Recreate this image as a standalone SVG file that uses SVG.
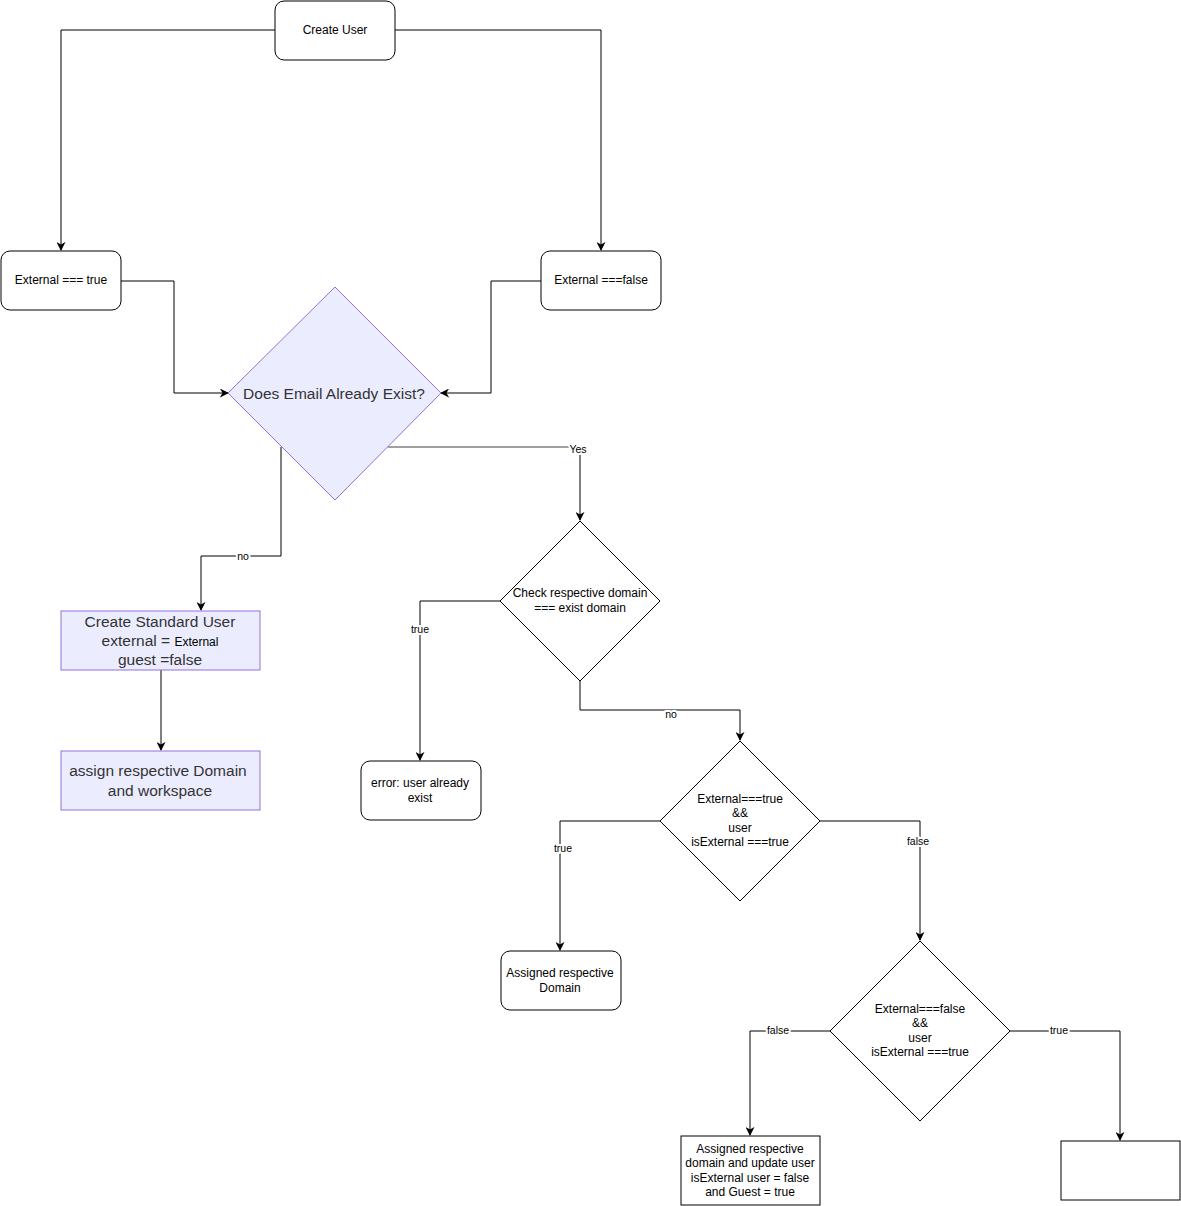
<svg xmlns="http://www.w3.org/2000/svg" width="1181" height="1206" viewBox="0 0 1181 1206">
<defs>
<marker id="arr" viewBox="0 0 10 10" refX="9" refY="5" markerWidth="9" markerHeight="9" markerUnits="userSpaceOnUse" orient="auto">
<path d="M0,0 L10,5 L0,10 L3,5 z" fill="#000"/>
</marker>
<style>
.box{fill:#fff;stroke:#000;stroke-width:1}
.mbox{fill:#ececff;stroke:#9370db;stroke-width:1}
.t{font-family:"Liberation Sans",Arial,sans-serif;font-size:12px;fill:#000;text-anchor:middle}
.m{font-family:"Liberation Sans",Arial,sans-serif;font-size:15.5px;fill:#333;text-anchor:middle}
.e{fill:none;stroke:#000;stroke-width:1}
.lbl{font-family:"Liberation Sans",Arial,sans-serif;font-size:10.5px;fill:#000;text-anchor:middle;stroke:#fff;stroke-width:4px;paint-order:stroke;stroke-linejoin:round}
</style>
</defs>
<rect width="1181" height="1206" fill="#fff"/>
<g id="connectors">
<path class="e" d="M275,30 H61 V250" marker-end="url(#arr)"/>
<path class="e" d="M395,30 H601 V250" marker-end="url(#arr)"/>
<path class="e" d="M121,281 H174 V393 H228" marker-end="url(#arr)"/>
<path class="e" d="M541,281 H491 V393 H441" marker-end="url(#arr)"/>
<path d="M388,447 H580" fill="none" stroke="#808080" stroke-width="1.3"/>
<path class="e" d="M580,447 V520" marker-end="url(#arr)"/>
<text class="lbl" x="578" y="453">Yes</text>
<path class="e" d="M281,447 V556 H201 V610" marker-end="url(#arr)"/>
<text class="lbl" x="243" y="560">no</text>
<path class="e" d="M161,670 V750" marker-end="url(#arr)"/>
<path class="e" d="M500,601 H420 V760" marker-end="url(#arr)"/>
<text class="lbl" x="420" y="633">true</text>
<path class="e" d="M580,681 V710 H740 V740" marker-end="url(#arr)"/>
<text class="lbl" x="671" y="718">no</text>
<path class="e" d="M660,821 H560 V950" marker-end="url(#arr)"/>
<text class="lbl" x="563" y="852">true</text>
<path class="e" d="M820,821 H920 V940" marker-end="url(#arr)"/>
<text class="lbl" x="918" y="845">false</text>
<path class="e" d="M830,1031 H750 V1135" marker-end="url(#arr)"/>
<text class="lbl" x="778" y="1034">false</text>
<path class="e" d="M1010,1031 H1120 V1140" marker-end="url(#arr)"/>
<text class="lbl" x="1059" y="1034">true</text>
</g>
<g id="create-user">
<rect class="box" x="275" y="1" width="120" height="59" rx="9"/>
<text class="t" x="335" y="34">Create User</text>
</g>
<g id="external-true">
<rect class="box" x="1" y="251" width="120" height="59" rx="9"/>
<text class="t" x="61" y="284">External === true</text>
</g>
<g id="external-false">
<rect class="box" x="541" y="251" width="120" height="59" rx="9"/>
<text class="t" x="601" y="284">External ===false</text>
</g>
<g id="email-exist">
<polygon class="mbox" points="335,287 441,393 335,500 228,393"/>
<text class="m" x="334" y="399">Does Email Already Exist?</text>
</g>
<g id="create-standard">
<rect class="mbox" x="61" y="611" width="199" height="59"/>
<text class="m" x="160" y="627">Create Standard User</text>
<text class="m" x="160" y="646">external = <tspan style="font-size:12px;fill:#000">External</tspan></text>
<text class="m" x="160" y="665">guest =false</text>
</g>
<g id="assign-domain">
<rect class="mbox" x="61" y="751" width="199" height="59"/>
<text class="m" x="158" y="776">assign respective Domain</text>
<text class="m" x="160" y="796">and workspace</text>
</g>
<g id="check-domain">
<polygon class="box" points="580,521 660,601 580,681 500,601"/>
<text class="t" x="580" y="597">Check respective domain</text>
<text class="t" x="580" y="612">=== exist domain</text>
</g>
<g id="error-exist">
<rect class="box" x="361" y="761" width="120" height="59" rx="9"/>
<text class="t" x="420" y="787">error: user already</text>
<text class="t" x="420" y="802">exist</text>
</g>
<g id="external-true-check">
<polygon class="box" points="740,741 820,821 740,901 660,821"/>
<text class="t" x="740" y="803">External===true</text>
<text class="t" x="740" y="817">&amp;&amp;</text>
<text class="t" x="740" y="832">user</text>
<text class="t" x="740" y="846">isExternal ===true</text>
</g>
<g id="assigned-domain">
<rect class="box" x="501" y="951" width="120" height="59" rx="9"/>
<text class="t" x="560" y="977">Assigned respective</text>
<text class="t" x="560" y="992">Domain</text>
</g>
<g id="external-false-check">
<polygon class="box" points="920,941 1010,1031 920,1121 830,1031"/>
<text class="t" x="920" y="1013">External===false</text>
<text class="t" x="920" y="1027">&amp;&amp;</text>
<text class="t" x="920" y="1042">user</text>
<text class="t" x="920" y="1056">isExternal ===true</text>
</g>
<g id="assigned-update">
<rect class="box" x="681" y="1136" width="139" height="69"/>
<text class="t" x="750" y="1153">Assigned respective</text>
<text class="t" x="750" y="1167">domain and update user</text>
<text class="t" x="750" y="1182">isExternal user = false</text>
<text class="t" x="750" y="1196">and Guest = true</text>
</g>
<g id="empty-box">
<rect class="box" x="1061" y="1141" width="119" height="59"/>
</g>
</svg>
